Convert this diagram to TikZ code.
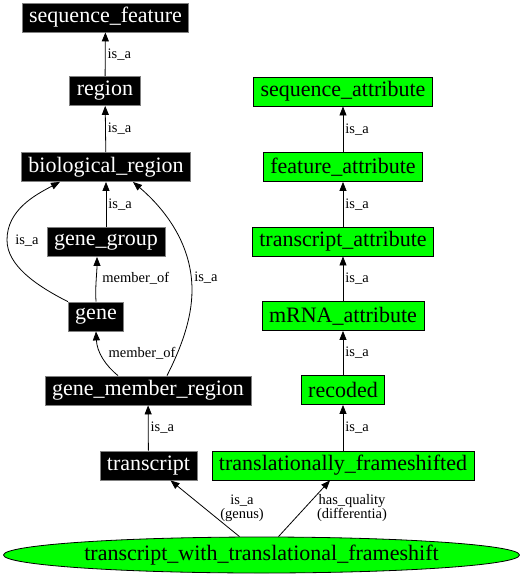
\documentclass[tikz,border=0pt]{standalone}
\usepackage{fontspec}
\setmainfont{Liberation Serif}
\usetikzlibrary{arrows.meta,shapes.geometric}

\begin{document}
\begin{tikzpicture}[%
      x=1pt, y=-1pt,
      term/.style={rectangle, fill=black, draw=gray, line width=0.8pt, text=white,
        inner xsep=7pt, inner ysep=2pt, minimum height=29pt,
        font=\fontsize{22}{24}\selectfont},
      attr/.style={term, fill=green, draw=black, text=black},
      target/.style={ellipse, fill=green, draw=black, line width=0.8pt, inner sep=0pt,
        minimum width=516pt, minimum height=36pt,
        font=\fontsize{22}{24}\selectfont},
      rel/.style={draw=black, line width=0.8pt, -{Triangle[length=9pt,width=7pt]}},
      lbl/.style={inner sep=2pt, font=\fontsize{14.5}{14}\selectfont},
      ]
      \useasboundingbox (0,0) rectangle (523,576);

      \node [term] (sequence_feature)   at (105.5,17.5) {sequence\_feature};
      \node [term] (region)             at (105,91)     {region};
      \node [term] (biological_region)  at (106,167)    {biological\_region};
      \node [term] (gene_group)         at (106,242)    {gene\_group};
      \node [term] (gene)               at (96,316.5)   {gene};
      \node [term] (gene_member_region) at (148,390.5)  {gene\_member\_region};
      \node [term] (transcript)         at (148.5,465.5) {transcript};

      \node [attr] (sequence_attribute)   at (343,91.5)  {sequence\_attribute};
      \node [attr] (feature_attribute)    at (343,167)   {feature\_attribute};
      \node [attr] (transcript_attribute) at (343,241.5) {transcript\_attribute};
      \node [attr] (mRNA_attribute)       at (343,316)   {mRNA\_attribute};
      \node [attr] (recoded)              at (343,390)   {recoded};
      \node [attr] (frameshifted)         at (343,465.5) {translationally\_frameshifted};

      \node [target] (twtf) at (261.5,555) {transcript\_with\_translational\_frameshift};

      % left column
      \draw [rel] (region) -- (sequence_feature) node [lbl, midway, right] {is\_a};
      \draw [rel] (biological_region) -- (region) node [lbl, midway, right] {is\_a};
      \draw [rel] (gene_group) -- (biological_region) node [lbl, midway, right] {is\_a};
      \draw [rel] (gene.north) .. controls (95,288) and (97,272) .. ([xshift=-9pt]gene_group.south)
            node [lbl, anchor=west] at (100,278) {member\_of};
      \draw [rel] (gene.north west) .. controls (35,285) and (7,265) .. (7,240)
            .. controls (7,210) and (35,195) .. ([xshift=-46pt]biological_region.south)
            node [lbl] at (27,241) {is\_a};
      \draw [rel] ([xshift=-30pt]gene_member_region.north) .. controls (105,365) and (97,352) .. (gene.south)
            node [lbl] at (142,353) {member\_of};
      \draw [rel] ([xshift=19pt]gene_member_region.north) .. controls (180,350) and (192,320) .. (192,290)
            .. controls (192,240) and (160,205) .. ([xshift=27pt]biological_region.south)
            node [lbl] at (206,278) {is\_a};
      \draw [rel] (transcript) -- (gene_member_region) node [lbl, midway, right] {is\_a};

      % right column
      \draw [rel] (feature_attribute) -- (sequence_attribute) node [lbl, midway, right] {is\_a};
      \draw [rel] (transcript_attribute) -- (feature_attribute) node [lbl, midway, right] {is\_a};
      \draw [rel] (mRNA_attribute) -- (transcript_attribute) node [lbl, midway, right] {is\_a};
      \draw [rel] (recoded) -- (mRNA_attribute) node [lbl, midway, right] {is\_a};
      \draw [rel] (frameshifted) -- (recoded) node [lbl, midway, right] {is\_a};

      % genus and differentia
      \draw [rel] ([xshift=-22pt]twtf.north) -- ([xshift=22pt]transcript.south)
            node [lbl, align=center] at (242,508) {is\_a\\(genus)};
      \draw [rel] ([xshift=17pt]twtf.north) -- ([xshift=-13pt]frameshifted.south)
            node [lbl, align=center] at (352,508) {has\_quality\\(differentia)};
      \end{tikzpicture}
\end{document}
